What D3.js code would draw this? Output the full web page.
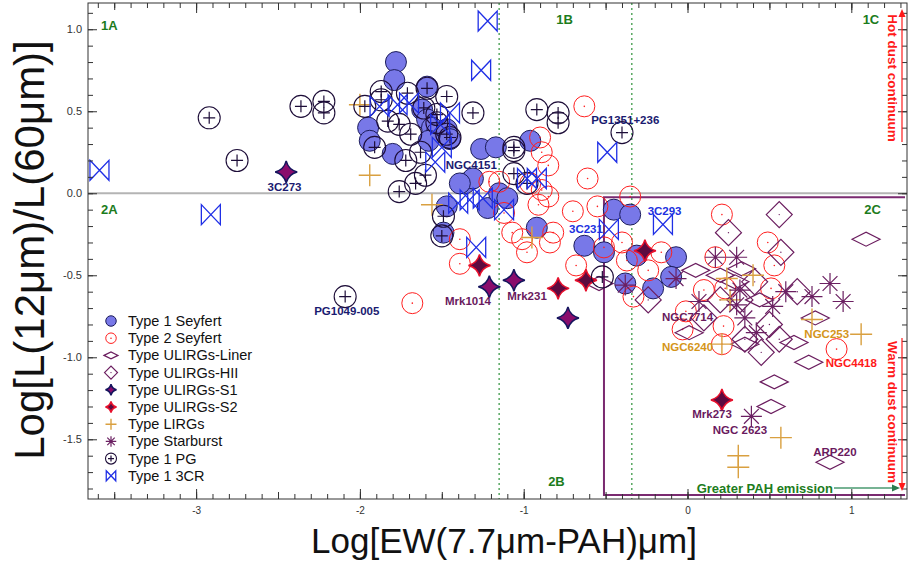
<!DOCTYPE html>
<html>
<head>
<meta charset="UTF-8">
<title>Log[EW(7.7um-PAH)] vs Log[L(12um)/L(60um)]</title>
<style>
  body { margin: 0; background: #fff; }
  text { font-family: "Liberation Sans", Arial, sans-serif; }
</style>
</head>
<body>
<svg id="chart" width="908" height="562"></svg>
<script src="https://cdn.jsdelivr.net/npm/d3@7"></script>
<script>
// data: [Log EW(7.7um PAH), Log L12/L60]
var seyfert1 = [[-1.78,0.80],[-1.79,0.69],[-1.59,0.65],[-1.95,0.40],[-1.94,0.32],[-1.80,0.24],
  [-1.62,0.51],[-1.59,0.45],[-1.56,0.40],[-1.53,0.37],[-1.47,0.39],[-1.58,0.32],[-1.45,0.33],
  [-1.26,0.27],[-1.17,0.28],[-0.96,0.32],[-1.36,0.06],[-1.31,0.09],[-1.39,0.06],[-1.47,-0.08],
  [-1.22,-0.09],[-1.15,0.00],[-1.10,-0.03],[-1.49,-0.24],[-0.92,-0.21],[-0.63,-0.32],[-0.51,-0.36],
  [-0.45,-0.10],[-0.35,-0.13],[-0.31,-0.38],[-0.07,-0.39],[-0.10,-0.51],[-0.21,-0.58],[-0.38,-0.55]];
var seyfert2 = [[-0.63,0.53],[-0.90,0.34],[-0.89,0.25],[-0.85,0.17],[-0.61,0.09],[-1.21,0.07],
  [-1.15,0.07],[-0.96,0.06],[-0.89,0.02],[-0.85,-0.02],[-0.91,-0.07],[-0.35,-0.02],[-1.12,-0.12],
  [-1.07,-0.24],[-1.01,-0.28],[-0.98,-0.36],[-0.84,-0.30],[-0.82,-0.24],[-0.70,-0.11],[-0.55,-0.08],
  [-0.68,-0.44],[-1.39,-0.28],[-1.39,-0.43],[-1.68,-0.67],[-0.51,-0.33],[-0.40,-0.30],[-0.37,-0.41],
  [-0.24,-0.47],[-0.16,-0.36],[-0.33,-0.63],[0.21,-0.13],[0.49,-0.30],[0.17,-0.39],[0.53,-0.44],
  [0.10,-0.59],[0.23,-0.58],[0.51,-0.58],[-0.01,-0.72],[-0.03,-0.83],[0.22,-0.81],[0.21,-0.92],
  [0.91,-0.95]];
var ulirgLiner = [[-0.54,-0.55],[0.05,-0.47],[0.01,-0.85],[0.78,-0.76],[1.09,-0.28],[0.65,-0.91],
  [0.74,-1.03],[0.53,-1.15],[0.51,-1.30],[0.87,-1.64],[0.29,-0.54],[0.44,-0.65],[0.35,-0.92],
  [0.20,-0.50],[0.33,-0.46]];
var ulirgHII = [[0.56,-0.13],[0.25,-0.24],[0.57,-0.36],[0.67,-0.60],[0.45,-0.97],[-0.24,-0.65],
  [0.32,-0.65],[0.50,-0.80],[0.20,-0.65],[0.41,-0.54],[0.56,-0.89],[0.35,-0.89],[0.10,-0.76]];
var ulirgS1 = [[-2.45,0.13],[-1.21,-0.57],[-1.06,-0.53],[-0.73,-0.76]];
var ulirgS2 = [[-1.27,-0.44],[-0.79,-0.58],[-0.62,-0.53],[-0.26,-0.35],[0.21,-1.26]];
var lirgs = [[-2.00,0.54],[-1.94,0.11],[-1.56,-0.07],[-0.95,-0.27],[0.24,-0.52],[0.40,-0.50],
  [0.26,-0.65],[0.76,-0.77],[1.06,-0.86],[0.21,-0.92],[0.57,-1.49],[0.31,-1.60],[0.31,-1.67]];
var starburst = [[-0.38,-0.56],[-0.07,-0.52],[0.07,-0.66],[0.17,-0.39],[0.30,-0.39],[0.30,-0.68],
  [0.35,-0.76],[0.42,-0.85],[0.52,-0.69],[0.60,-0.60],[0.76,-0.63],[0.87,-0.55],[0.95,-0.66],
  [0.39,-1.36],[0.32,-0.59]];
var pg = [[-2.92,0.46],[-2.75,0.20],[-2.36,0.53],[-2.22,0.56],[-2.22,0.49],[-1.97,0.53],[-1.87,0.62],
  [-1.87,0.57],[-1.83,0.44],[-1.76,0.42],[-1.71,0.61],[-1.69,0.36],[-1.63,0.25],[-1.72,0.20],
  [-1.60,0.11],[-1.66,0.06],[-1.76,0.01],[-1.91,0.28],[-1.59,0.64],[-1.47,0.59],[-1.45,0.34],
  [-1.53,0.48],[-1.31,0.49],[-1.49,-0.14],[-1.50,-0.26],[-2.09,-0.63],[-0.92,0.51],[-0.79,0.49],
  [-0.79,0.43],[-1.06,0.28],[-1.06,0.26],[-1.06,0.12],[-0.40,0.37],[-0.98,0.06],[-0.52,-0.51],
  [-1.53,0.43],[-1.47,0.36],[-1.61,0.52]];
var cr3 = [[-3.59,0.14],[-2.91,-0.13],[-1.22,1.05],[-1.26,0.75],[-0.49,0.25],[-0.98,0.09],[-0.92,0.09],
  [-1.88,0.53],[-1.77,0.54],[-1.70,0.55],[-1.45,0.49],[-1.50,0.28],[-1.54,0.19],[-1.40,-0.06],
  [-1.33,-0.04],[-1.25,-0.03],[-1.12,-0.10],[-1.29,-0.33],[-0.48,-0.22],[-0.15,-0.19],[-1.51,0.42]];

var legendNames = ["Type 1 Seyfert", "Type 2 Seyfert", "Type ULIRGs-Liner", "Type ULIRGs-HII",
  "Type ULIRGs-S1", "Type ULIRGs-S2", "Type LIRGs", "Type Starburst", "Type 1 PG", "Type 1 3CR"];

// object names written next to points
var labelNames = ["3C273", "PG1049-005", "NGC4151", "PG1351+236", "3C231", "3C293", "Mrk1014",
  "Mrk231", "NGC7714", "NGC6240", "NGC253", "NGC4418", "Mrk273", "NGC 2623", "ARP220"];
var labelAt = [[-2.46,0.014],[-2.08,-0.74],[-1.32,0.15],[-0.38,0.42],[-0.62,-0.24],[-0.14,-0.13],
  [-1.34,-0.68],[-0.98,-0.65],[0.0,-0.78],[0.0,-0.96],[0.85,-0.88],[1.0,-1.06],[0.15,-1.37],
  [0.32,-1.47],[0.90,-1.60]];
var labelColor = ["#1a1a70","#1a1a70","#1a1a70","#1a1a70","#2030e0","#2030e0","#6a1a5e","#6a1a5e",
  "#6a1a5e","#d4951a","#d4951a","#ff1a1a","#6a1a5e","#6a1a5e","#6a1a5e"];

var regionNames = ["1A","1B","1C","2A","2B","2C"];
var regionAt = [[-3.53,0.995],[-0.75,1.03],[1.12,1.03],[-3.53,-0.126],[-0.80,-1.785],[1.13,-0.126]];

var xTicks = [-3, -2, -1, 0, 1];
var yTicks = [-1.5, -1.0, -0.5, 0.0, 0.5, 1.0];

var svg = d3.select("#chart");
var x = d3.scaleLinear().domain([-3.66, 1.34]).range([88, 907]);
var y = d3.scaleLinear().domain([-1.864, 1.16]).range([499, 3]);

// ---- guide lines
svg.append("line").attr("x1", x.range()[0]).attr("x2", x.range()[1])
  .attr("y1", y(0)).attr("y2", y(0)).attr("stroke", "#b4b4b4").attr("stroke-width", 2);
[-1.15, -0.34].forEach(function(v) {
  svg.append("line").attr("x1", x(v)).attr("x2", x(v)).attr("y1", 3).attr("y2", 499)
    .attr("stroke", "#3f9a4a").attr("stroke-width", 1.3).attr("stroke-dasharray", "2,3");
});
svg.append("path")
  .attr("d", "M" + (x.range()[1]-2) + "," + y(-0.025) + "H" + x(-0.51) + "V" + y(-1.84) + "H" + (x.range()[1]-2))
  .attr("fill", "none").attr("stroke", "#7a2a70").attr("stroke-width", 2);

// ---- markers
function star4(r) {
  var k = r * 0.2;
  return "M0," + (-r) + "Q" + k + "," + (-k) + " " + r + ",0Q" + k + "," + k + " 0," + r +
    "Q" + (-k) + "," + k + " " + (-r) + ",0Q" + (-k) + "," + (-k) + " 0," + (-r) + "Z";
}
function drawMark(g, kind, s) {
  if (kind === "disc") {
    g.append("circle").attr("r", 10.5*s).attr("fill", "#7878e8").attr("stroke", "#1c1c5c").attr("stroke-width", 1);
  } else if (kind === "ring") {
    g.append("circle").attr("r", 10.5*s).attr("fill", "none").attr("stroke", "#ff1f1f").attr("stroke-width", 1);
    g.append("circle").attr("r", 0.8).attr("fill", "#ff1f1f");
  } else if (kind === "flat") {
    g.append("path").attr("d", "M" + (-14*s) + ",0L0," + (-7*s) + "L" + (14*s) + ",0L0," + (7*s) + "Z")
      .attr("fill", "none").attr("stroke", "#6b1d5f").attr("stroke-width", 1.2);
  } else if (kind === "diamond") {
    g.append("path").attr("d", "M" + (-13*s) + ",0L0," + (-13*s) + "L" + (13*s) + ",0L0," + (13*s) + "Z")
      .attr("fill", "none").attr("stroke", "#6b1d5f").attr("stroke-width", 1.2);
    g.append("circle").attr("r", 0.7).attr("fill", "#6b1d5f");
  } else if (kind === "s1") {
    g.append("path").attr("d", star4(11*s)).attr("fill", "#8a0c6c").attr("stroke", "#15155e").attr("stroke-width", 1.5);
  } else if (kind === "s2") {
    g.append("path").attr("d", star4(11*s)).attr("fill", "#5c0b40").attr("stroke", "#e8102c").attr("stroke-width", 1.5);
  } else if (kind === "plus") {
    var a = 11*s;
    g.append("path").attr("d", "M" + (-a) + ",0H" + a + "M0," + (-a) + "V" + a)
      .attr("stroke", "#d9a040").attr("stroke-width", 1.4);
  } else if (kind === "aster") {
    var b = 10.5*s, c = b * 0.707;
    g.append("path").attr("d", "M" + (-b) + ",0H" + b + "M0," + (-b) + "V" + b +
      "M" + (-c) + "," + (-c) + "L" + c + "," + c + "M" + (-c) + "," + c + "L" + c + "," + (-c))
      .attr("stroke", "#6b2062").attr("stroke-width", 1.2);
  } else if (kind === "pg") {
    var p = 6*s;
    g.append("circle").attr("r", 11*s).attr("fill", "none").attr("stroke", "#1d0d38").attr("stroke-width", 1.1);
    g.append("path").attr("d", "M" + (-p) + ",0H" + p + "M0," + (-p) + "V" + p)
      .attr("stroke", "#1d0d38").attr("stroke-width", 1.2);
  } else if (kind === "bowtie") {
    var w = 9.5*s, h = 10*s;
    g.append("path").attr("d", "M" + (-w) + "," + (-h) + "L" + w + "," + h + "L" + w + "," + (-h) + "L" + (-w) + "," + h + "Z")
      .attr("fill", "none").attr("stroke", "#1f2fe6").attr("stroke-width", 1.3);
  }
}

var series = [
  {data: seyfert1, kind: "disc"}, {data: seyfert2, kind: "ring"},
  {data: ulirgLiner, kind: "flat"}, {data: ulirgHII, kind: "diamond"},
  {data: ulirgS1, kind: "s1"}, {data: ulirgS2, kind: "s2"},
  {data: lirgs, kind: "plus"}, {data: starburst, kind: "aster"},
  {data: pg, kind: "pg"}, {data: cr3, kind: "bowtie"}
];

series.forEach(function(sr) {
  svg.append("g").selectAll("g").data(sr.data).enter().append("g")
    .attr("transform", function(d) { return "translate(" + x(d[0]) + "," + y(d[1]) + ")"; })
    .each(function() { drawMark(d3.select(this), sr.kind, 1); });
});

// ---- axes (ticks point inward)
function tickRange(a, b, step) { return d3.range(Math.round(a/step), Math.round(b/step) + 1).map(function(i) { return +(i*step).toFixed(2); }); }
var xMinor = tickRange(-3.6, 1.3, 0.1), xHalf = tickRange(-3.5, 1.0, 0.5);
var yMinor = tickRange(-1.8, 1.1, 0.1);

svg.append("g").attr("transform", "translate(0,499)").call(d3.axisBottom(x).tickValues(xMinor).tickSize(-5).tickFormat(""));
svg.append("g").attr("transform", "translate(0,499)").call(d3.axisBottom(x).tickValues(xHalf).tickSize(-7).tickFormat(""));
svg.append("g").attr("class", "xlab").attr("transform", "translate(0,499)")
  .call(d3.axisBottom(x).tickValues(xTicks).tickSize(-10).tickPadding(8).tickFormat(function(d) { return String(d); }));
svg.append("g").attr("transform", "translate(0,3)").call(d3.axisTop(x).tickValues(xMinor).tickSize(-5).tickFormat(""));
svg.append("g").attr("transform", "translate(0,3)").call(d3.axisTop(x).tickValues(xHalf).tickSize(-7).tickFormat(""));
svg.append("g").attr("transform", "translate(0,3)").call(d3.axisTop(x).tickValues(xTicks).tickSize(-10).tickFormat(""));

svg.append("g").attr("transform", "translate(88,0)").call(d3.axisLeft(y).tickValues(yMinor).tickSize(-5).tickFormat(""));
svg.append("g").attr("class", "ylab").attr("transform", "translate(88,0)")
  .call(d3.axisLeft(y).tickValues(yTicks).tickSize(-9).tickPadding(6).tickFormat(function(d) { return d.toFixed(1); }));
svg.append("g").attr("transform", "translate(907,0)").call(d3.axisRight(y).tickValues(yMinor).tickSize(-5).tickFormat(""));
svg.append("g").attr("transform", "translate(907,0)").call(d3.axisRight(y).tickValues(yTicks).tickSize(-9).tickFormat(""));

svg.selectAll(".domain").remove();
svg.selectAll(".tick line").attr("stroke", "#333");
svg.selectAll(".xlab text").attr("font-size", 10).attr("fill", "#333");
svg.selectAll(".ylab text").attr("font-size", 11).attr("fill", "#333");

svg.append("rect").attr("x", 88).attr("y", 3).attr("width", 819).attr("height", 496)
  .attr("fill", "none").attr("stroke", "#333").attr("stroke-width", 1);

// ---- annotations
labelNames.forEach(function(t, i) {
  svg.append("text").attr("x", x(labelAt[i][0])).attr("y", y(labelAt[i][1]))
    .attr("text-anchor", "middle").attr("font-size", 11.5).attr("font-weight", "bold")
    .attr("fill", labelColor[i]).text(t);
});
regionNames.forEach(function(t, i) {
  svg.append("text").attr("x", x(regionAt[i][0])).attr("y", y(regionAt[i][1]))
    .attr("text-anchor", "middle").attr("font-size", 13).attr("font-weight", "bold")
    .attr("fill", "#1c7c1c").text(t);
});

// hot / warm dust arrows
svg.append("line").attr("x1", 902).attr("x2", 902).attr("y1", 142).attr("y2", 16).attr("stroke", "#ff1a1a").attr("stroke-width", 1.2);
svg.append("path").attr("d", "M902,9L898.5,17H905.5Z").attr("fill", "#ff1a1a");
svg.append("text").attr("transform", "translate(888,78) rotate(90)").attr("text-anchor", "middle")
  .attr("font-size", 13.5).attr("font-weight", "bold").attr("fill", "#ff1a1a").text("Hot dust continuum");
svg.append("line").attr("x1", 902).attr("x2", 902).attr("y1", 338).attr("y2", 484).attr("stroke", "#ff1a1a").attr("stroke-width", 1.2);
svg.append("path").attr("d", "M902,491L898.5,483H905.5Z").attr("fill", "#ff1a1a");
svg.append("text").attr("transform", "translate(888,412) rotate(90)").attr("text-anchor", "middle")
  .attr("font-size", 13.5).attr("font-weight", "bold").attr("fill", "#ff1a1a").text("Warm dust continuum");

svg.append("line").attr("x1", 834).attr("x2", 893).attr("y1", 488).attr("y2", 488).attr("stroke", "#4a9a70").attr("stroke-width", 1.5);
svg.append("path").attr("d", "M900,488L892,484.5V491.5Z").attr("fill", "#2c7a4c");
svg.append("text").attr("x", 833).attr("y", 493).attr("text-anchor", "end")
  .attr("font-size", 13).attr("font-weight", "bold").attr("fill", "#1c7c1c").text("Greater PAH emission");

// ---- legend
var leg = svg.append("g");
legendNames.forEach(function(t, i) {
  var yy = 321 + i * 17.2;
  var g = leg.append("g").attr("transform", "translate(111," + yy + ")");
  drawMark(g, series[i].kind, 0.5);
  leg.append("text").attr("x", 128).attr("y", yy + 5).attr("font-size", 14.5).attr("fill", "#111").text(t);
});

// ---- axis titles
svg.append("text").attr("x", 504).attr("y", 553).attr("text-anchor", "middle")
  .attr("font-size", 35).attr("fill", "#111").text("Log[EW(7.7\u03bcm-PAH)\u03bcm]");
svg.append("text").attr("transform", "translate(44,250) rotate(-90)").attr("text-anchor", "middle")
  .attr("font-size", 42).attr("fill", "#111").text("Log[L(12\u03bcm)/L(60\u03bcm)]");
</script>
</body>
</html>
